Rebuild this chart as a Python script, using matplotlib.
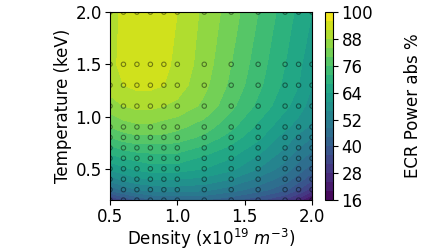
import numpy as np
import matplotlib
matplotlib.use("Agg")
import matplotlib.pyplot as plt

# scan grid
density = [0.5, 0.6, 0.7, 0.8, 0.9, 1.0, 1.2, 1.4, 1.6, 1.8, 1.9, 2.0]
temperature = [0.2, 0.3, 0.4, 0.5, 0.6, 0.7, 0.8, 0.9, 1.1, 1.3, 1.5, 2.0]

# ECR absorbed power (%), one row per temperature
ecr_abs = [
    [30, 36, 40, 43, 44, 44, 44, 41, 37, 31, 26, 18],
    [45, 49, 52, 53, 54, 54, 53, 50, 46, 41, 36, 30],
    [54, 57, 59, 60, 60, 60, 59, 56, 51, 46, 42, 37],
    [61, 63, 65, 66, 66, 66, 64, 61, 56, 50, 46, 42],
    [66, 68, 69, 70, 70, 70, 67, 64, 59, 53, 49, 46],
    [71, 73, 74, 74, 74, 74, 71, 67, 62, 56, 52, 49],
    [76, 78, 79, 79, 79, 78, 75, 70, 65, 58, 55, 52],
    [80, 82, 83, 83, 82, 81, 78, 73, 67, 61, 58, 55],
    [86, 88, 89, 89, 88, 87, 83, 77, 71, 65, 62, 58],
    [90, 92, 93, 93, 92, 90, 85, 79, 73, 67, 64, 60],
    [91, 93, 94, 94, 93, 91, 86, 80, 74, 68, 65, 61],
    [90, 93, 95, 95, 94, 92, 87, 82, 76, 70, 67, 64],
]

levels = np.arange(16, 101, 4)
cbar_ticks = np.arange(16, 101, 12)

fig = plt.figure(figsize=(4.48, 2.52), dpi=100)
ax = fig.add_axes([0.2455, 0.206, 0.451, 0.746])
cax = fig.add_axes([0.7254, 0.206, 0.018, 0.746])

X, Y = np.meshgrid(density, temperature)
cf = ax.contourf(X, Y, np.array(ecr_abs), levels=levels, cmap="viridis")
ax.scatter(X.ravel(), Y.ravel(), s=10, facecolors="none", edgecolors="k",
           linewidths=0.8, alpha=0.45)

ax.set_xticks([0.5, 1.0, 1.5, 2.0])
ax.set_yticks([0.5, 1.0, 1.5, 2.0])
ax.tick_params(labelsize=12, pad=2.5)
ax.set_xlabel(r"Density (x10$^{19}$ $m^{-3}$)", fontsize=12, labelpad=0)
ax.set_ylabel("Temperature (keV)", fontsize=12, labelpad=2)

cb = fig.colorbar(cf, cax=cax, ticks=cbar_ticks)
cb.ax.tick_params(labelsize=12, pad=2.5)
cb.set_label("ECR Power abs %", fontsize=12, labelpad=22)

fig.savefig("out.png", dpi=100)
